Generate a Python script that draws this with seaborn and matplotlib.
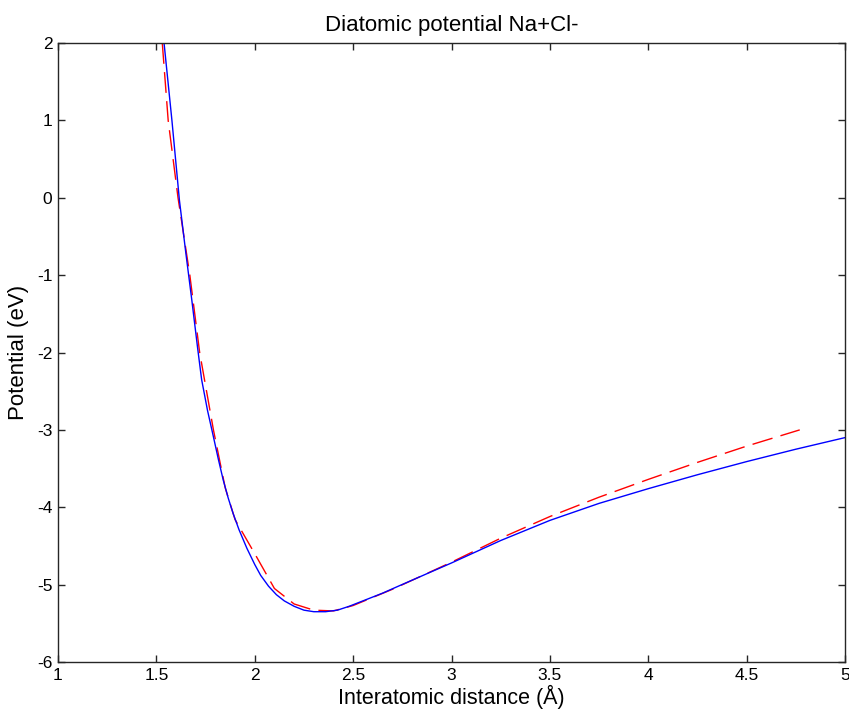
import matplotlib
matplotlib.use("Agg")
import matplotlib.pyplot as plt
import seaborn as sns
import pandas as pd

# Blue solid curve (model potential)
blue_x = [1.539, 1.579, 1.617, 1.65, 1.68, 1.71, 1.73, 1.76, 1.79, 1.815, 1.84, 1.865, 1.89,
          1.92, 1.96, 2.0, 2.03, 2.07, 2.11, 2.15, 2.20, 2.25, 2.30, 2.36, 2.42, 2.48,
          2.56, 2.65, 2.73, 2.82, 2.91, 3.0, 3.25, 3.5, 3.75, 4.0, 4.25, 4.5, 4.75, 5.0]
blue_y = [2.0, 1.0, -0.03, -0.72, -1.32, -1.95, -2.35, -2.75, -3.09, -3.38, -3.65, -3.88, -4.08,
          -4.29, -4.53, -4.74, -4.88, -5.02, -5.13, -5.21, -5.28, -5.33, -5.35, -5.35, -5.33, -5.28,
          -5.20, -5.11, -5.02, -4.92, -4.82, -4.72, -4.43, -4.17, -3.95, -3.76, -3.58, -3.41, -3.25, -3.10]

# Red dashed curve (reference potential)
red_x = [1.53, 1.56, 1.61, 1.67, 1.72, 1.79, 1.85, 1.9, 2.0, 2.1, 2.2, 2.3, 2.4,
         2.5, 2.7, 3.0, 3.25, 3.5, 3.75, 4.0, 4.25, 4.5, 4.77]
red_y = [2.0, 1.0, 0.0, -1.0, -2.0, -3.0, -3.75, -4.16, -4.60, -5.05, -5.25, -5.33, -5.34,
         -5.27, -5.06, -4.71, -4.40, -4.12, -3.87, -3.64, -3.42, -3.21, -3.00]

x_ticks = [1, 1.5, 2, 2.5, 3, 3.5, 4, 4.5, 5]
x_tick_labels = ["1", "1.5", "2", "2.5", "3", "3.5", "4", "4.5", "5"]
y_ticks = [-6, -5, -4, -3, -2, -1, 0, 1, 2]

title = "Diatomic potential Na+Cl-"
xlabel = "Interatomic distance (Å)"
ylabel = "Potential (eV)"

sns.set_theme(style="white")
plt.rcParams["font.family"] = ["Liberation Sans", "DejaVu Sans"]

fig = plt.figure(figsize=(8.49, 7.13), dpi=100)
ax = fig.add_axes([58 / 849, 1 - 662 / 713, (845 - 58) / 849, (662 - 43) / 713])

df_red = pd.DataFrame({"x": red_x, "y": red_y})
df_blue = pd.DataFrame({"x": blue_x, "y": blue_y})

sns.lineplot(data=df_red, x="x", y="y", ax=ax, color="#ff0000", lw=1.0,
             sort=False, estimator=None, dashes=False)
ax.lines[-1].set_dashes((15, 6))
sns.lineplot(data=df_blue, x="x", y="y", ax=ax, color="#0000ff", lw=1.0,
             sort=False, estimator=None)

ax.set_xlim(1, 5)
ax.set_ylim(-6, 2)
ax.set_xticks(x_ticks)
ax.set_xticklabels(x_tick_labels)
ax.set_yticks(y_ticks)
ax.set_yticklabels([str(v) for v in y_ticks])

for s in ax.spines.values():
    s.set_visible(True)
    s.set_color("#262626")
    s.set_linewidth(1.0)

ax.tick_params(direction="in", length=5, width=1, color="#262626",
               top=True, right=True, bottom=True, left=True,
               labelsize=12.5, labelcolor="black", pad=4)

ax.set_title(title, fontsize=16, color="black", pad=9)
ax.set_xlabel(xlabel, fontsize=15.5, color="black", labelpad=2)
ax.set_ylabel(ylabel, fontsize=16, color="black", labelpad=6)

fig.savefig("out.png", dpi=100)
